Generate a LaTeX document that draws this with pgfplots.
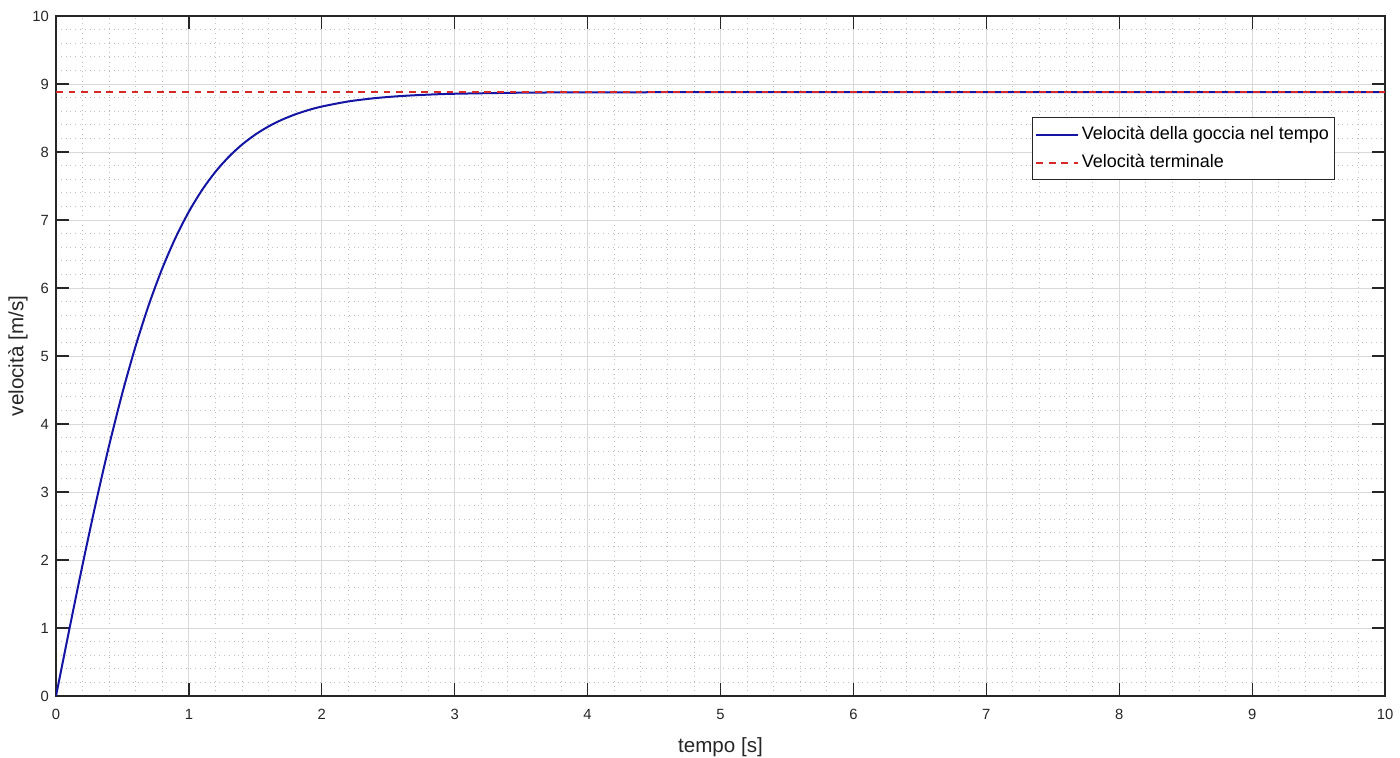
\documentclass[border=0pt]{standalone}
\usepackage{fontspec}
\setmainfont{Liberation Sans}
\usepackage{pgfplots}
\pgfplotsset{compat=1.18}

\definecolor{curva}{RGB}{20,20,165}
\definecolor{terminale}{RGB}{215,40,40}
\definecolor{assi}{RGB}{38,38,38}

\begin{document}
\begin{tikzpicture}
\begin{axis}[
    scale only axis,
    width=664.5pt, height=340pt,
    xmin=0, xmax=10, ymin=0, ymax=10,
    xtick={0,1,...,10}, ytick={0,1,...,10},
    minor tick num=4,
    grid=both,
    major grid style={draw=black!15, line width=0.5pt},
    minor grid style={draw=black!25, dotted, line width=0.4pt},
    axis line style={draw=assi, line width=0.6pt},
    tick style={draw=assi, line width=0.6pt},
    major tick length=6.5pt,
    minor tick length=0pt,
    tick align=inside,
    xtick pos=both, ytick pos=both,
    ticklabel style={font=\fontsize{7.4}{9}\selectfont, text=assi},
    xticklabel style={yshift=-3pt},
    /pgf/number format/assume math mode=true,
    xlabel={tempo [s]}, ylabel={velocità [m/s]},
    label style={font=\fontsize{10.3}{12}\selectfont, text=assi},
    xlabel style={yshift=-2pt},
    ylabel style={yshift=-4.5pt},
    legend style={at={(0.9624,0.8515)}, anchor=north east,
        draw=assi, line width=0.6pt, fill=white,
        font=\fontsize{9}{11}\selectfont,
        inner xsep=1.5pt, inner ysep=4pt, row sep=5pt,
        nodes={inner xsep=1.25pt, inner ysep=0pt, text height=7pt, text depth=2pt}},
    legend cell align=left,
    legend image code/.code={\draw[#1, line width=1pt] (0pt,0pt) -- (21pt,0pt);},
]
\addplot[curva, line width=1pt, smooth] coordinates {
  (0,0) (0.1,0.9770) (0.2,1.9308) (0.3,2.8399) (0.4,3.6871)
  (0.5,4.4603) (0.6,5.1525) (0.7,5.7617) (0.8,6.2896) (0.9,6.7413)
  (1.0,7.1233) (1.1,7.4434) (1.2,7.7094) (1.3,7.9290) (1.4,8.1094)
  (1.5,8.2568) (1.6,8.3769) (1.7,8.4744) (1.8,8.5533) (1.9,8.6171)
  (2.0,8.6686) (2.2,8.7435) (2.4,8.7920) (2.6,8.8235) (2.8,8.8436)
  (3.0,8.8566) (3.5,8.8722) (4.0,8.8774) (5.0,8.8797) (6.0,8.8800)
  (7.0,8.8800) (8.0,8.8800) (9.0,8.8800) (10.0,8.8800)
};
\addlegendentry{Velocità della goccia nel tempo}
\addplot[terminale, line width=1pt, dash pattern=on 3.4pt off 2.9pt] coordinates {
  (0,8.88) (10,8.88)
};
\addlegendentry{Velocità terminale}
\end{axis}
\pgfresetboundingbox
\path[use as bounding box] (current axis.south west) ++(-28pt,-30.5pt) rectangle ([shift={(7.5pt,8pt)}]current axis.north east);
\end{tikzpicture}
\end{document}
